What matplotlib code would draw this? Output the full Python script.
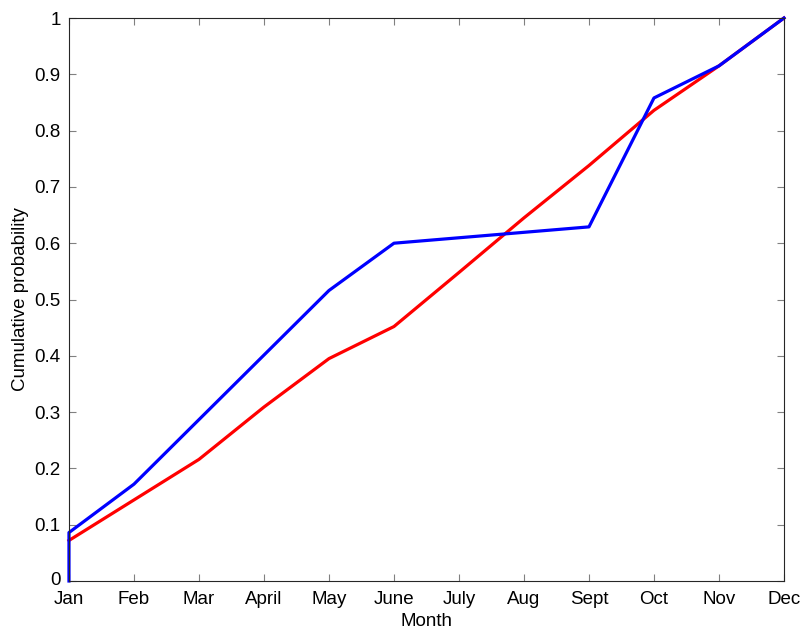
import matplotlib
matplotlib.use("Agg")
import matplotlib.pyplot as plt
from matplotlib.transforms import ScaledTranslation

months = ["Jan", "Feb", "Mar", "April", "May", "June", "July", "Aug", "Sept", "Oct", "Nov", "Dec"]
yticks = [0, 0.1, 0.2, 0.3, 0.4, 0.5, 0.6, 0.7, 0.8, 0.9, 1.0]
ytick_labels = ["0", "0.1", "0.2", "0.3", "0.4", "0.5", "0.6", "0.7", "0.8", "0.9", "1"]

# red: smooth cumulative curve, one value per month
red_x = [1, 2, 3, 4, 5, 6, 7, 8, 9, 10, 11, 12]
red_y = [0.072, 0.144, 0.216, 0.309, 0.395, 0.452, 0.548, 0.645, 0.738, 0.836, 0.915, 1.0]

# blue: empirical cumulative, starts with a jump at Jan
blue_x = [1, 1, 2, 5, 6, 9, 10, 11, 12]
blue_y = [0.0, 0.086, 0.172, 0.516, 0.600, 0.629, 0.858, 0.915, 1.0]

plt.rcParams["font.family"] = ["Liberation Sans", "DejaVu Sans"]
fs = 13.5

fig = plt.figure(figsize=(8.03, 6.30), dpi=100)
ax = fig.add_axes([0.0859, 0.0778, 0.8904, 0.8936])

ax.plot(red_x, red_y, color="#ff0000", linewidth=2.3, clip_on=False)
ax.plot(blue_x, blue_y, color="#0000ff", linewidth=2.3, clip_on=False)

ax.set_xlim(1, 12)
ax.set_ylim(0, 1)
ax.set_xticks(range(1, 13))
ax.set_xticklabels(months)
ax.set_yticks(yticks)
ax.set_yticklabels(ytick_labels)

ax.tick_params(direction="in", top=True, right=True, length=5, width=0.8,
               color="#808080", labelsize=fs)
ax.tick_params(axis="x", pad=7)
ax.tick_params(axis="y", pad=6)
# nudge the "0" up a couple of pixels so it clears "Jan" below it
zero_lbl = ax.get_yticklabels()[0]
zero_lbl.set_transform(zero_lbl.get_transform() + ScaledTranslation(0, 2 / 72, fig.dpi_scale_trans))
for side in ax.spines.values():
    side.set_linewidth(0.8)
    side.set_color("#262626")

ax.set_xlabel("Month", fontsize=fs, labelpad=3.5)
ax.set_ylabel("Cumulative probability", fontsize=fs, labelpad=4)

fig.savefig("out.png", dpi=100)
